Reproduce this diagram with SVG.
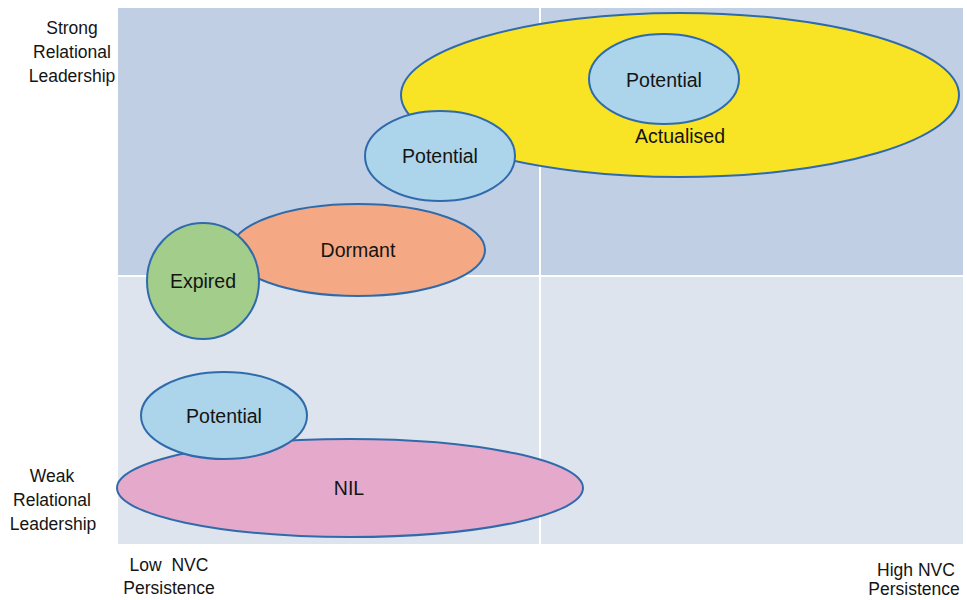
<svg xmlns="http://www.w3.org/2000/svg" width="967" height="600" viewBox="0 0 967 600">
  <style>
    text { font-family: "Liberation Sans", Arial, sans-serif; fill: #141414; }
    .axis { font-size: 17.5px; text-anchor: middle; }
    .lbl { font-size: 19.5px; text-anchor: middle; }
    .shape { stroke: #2f6bab; stroke-width: 2; }
    .blue { fill: #acd4ea; }
    .divider { stroke: #ffffff; stroke-width: 2; }
  </style>

  <rect width="967" height="600" fill="#ffffff"/>

  <!-- quadrant backgrounds -->
  <g id="quadrants">
    <rect x="118" y="8" width="845" height="268" fill="#c0cfe4"/>
    <rect x="118" y="276" width="845" height="268" fill="#dee4ee"/>
    <line class="divider" x1="540" y1="8" x2="540" y2="544"/>
    <line class="divider" x1="118" y1="276" x2="963" y2="276"/>
  </g>

  <!-- axis labels -->
  <g id="axis-labels">
    <text class="axis" x="72" y="34">Strong</text>
    <text class="axis" x="72" y="58">Relational</text>
    <text class="axis" x="72" y="82">Leadership</text>
    <text class="axis" x="52" y="482">Weak</text>
    <text class="axis" x="52" y="506">Relational</text>
    <text class="axis" x="53" y="530">Leadership</text>
    <text class="axis" x="169" y="571" xml:space="preserve">Low  NVC</text>
    <text class="axis" x="169" y="594">Persistence</text>
    <text class="axis" x="916" y="576">High NVC</text>
    <text class="axis" x="914" y="595">Persistence</text>
  </g>

  <g id="nil">
    <ellipse class="shape" cx="350" cy="488" rx="233" ry="49" fill="#e4a9cb"/>
    <text class="lbl" x="349" y="495">NIL</text>
  </g>

  <g id="potential-low">
    <ellipse class="shape blue" cx="224" cy="415.5" rx="83" ry="43.5"/>
    <text class="lbl" x="224" y="423">Potential</text>
  </g>

  <g id="dormant">
    <ellipse class="shape" cx="358" cy="250" rx="127" ry="46" fill="#f4a984"/>
    <text class="lbl" x="358" y="257">Dormant</text>
  </g>

  <g id="expired">
    <ellipse class="shape" cx="203" cy="281" rx="56" ry="58" fill="#a3cd8a"/>
    <text class="lbl" x="203" y="288">Expired</text>
  </g>

  <g id="actualised">
    <ellipse class="shape" cx="680" cy="95" rx="279" ry="82" fill="#f8e424"/>
    <text class="lbl" x="680" y="143">Actualised</text>
  </g>

  <g id="potential-mid">
    <ellipse class="shape blue" cx="440" cy="156" rx="75" ry="45"/>
    <text class="lbl" x="440" y="163">Potential</text>
  </g>

  <g id="potential-high">
    <ellipse class="shape blue" cx="664" cy="79" rx="75" ry="45"/>
    <text class="lbl" x="664" y="87">Potential</text>
  </g>

  <g id="connectors"></g>
</svg>
